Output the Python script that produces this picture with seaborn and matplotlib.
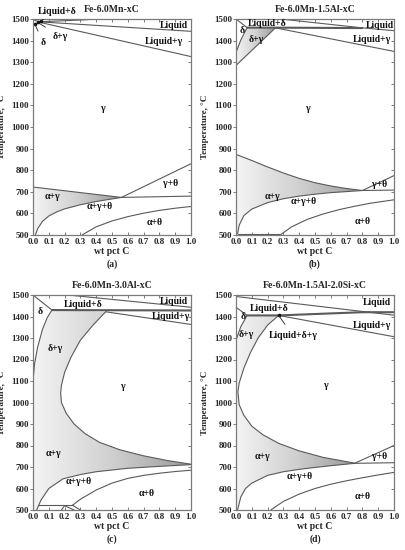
import numpy as np
import matplotlib
matplotlib.use("Agg")
import matplotlib.pyplot as plt
import seaborn as sns
from matplotlib.patches import Polygon
from matplotlib.colors import LinearSegmentedColormap

# ---------------- data (wt pct C, temperature degC) ----------------
X_TICKS = [0.0, 0.1, 0.2, 0.3, 0.4, 0.5, 0.6, 0.7, 0.8, 0.9, 1.0]
X_TICK_LABELS = ["0.0", "0.1", "0.2", "0.3", "0.4", "0.5", "0.6", "0.7", "0.8", "0.9", "1.0"]
Y_TICKS = [500, 600, 700, 800, 900, 1000, 1100, 1200, 1300, 1400, 1500]
TITLES = ["Fe-6.0Mn-xC", "Fe-6.0Mn-1.5Al-xC", "Fe-6.0Mn-3.0Al-xC", "Fe-6.0Mn-1.5Al-2.0Si-xC"]
PANEL_TAGS = ["(a)", "(b)", "(c)", "(d)"]

# panel (a)
A_TOP = [(0.04, 1487), (0.35, 1497)]
A_LIQ = [(0.04, 1487), (1.0, 1443)]
A_SOL = [(0.04, 1485), (1.0, 1326)]
A_D1 = [(0.0, 1497), (0.04, 1487)]
A_D2 = [(0.0, 1472), (0.04, 1486)]
A_AG_UP = [(0.0, 722), (0.56, 674)]
A_EUT = [(0.56, 674), (1.0, 680)]
A_GT = [(0.56, 674), (1.0, 830)]
A_AG_LOW = [(0.015, 500), (0.03, 530), (0.06, 563), (0.1, 588), (0.15, 607), (0.2, 621),
            (0.3, 640), (0.4, 655), (0.5, 667), (0.56, 674)]
A_AT = [(0.31, 500), (0.4, 538), (0.5, 565), (0.6, 585), (0.7, 601), (0.8, 614), (0.9, 624), (1.0, 632)]

# panel (b)
B_LIQ = [(0.28, 1500), (0.8, 1459), (1.0, 1446)]
B_PERI = [(0.07, 1460), (0.25, 1460), (0.8, 1458)]
B_SOL = [(0.25, 1459), (1.0, 1350)]
B_D1 = [(0.0, 1500), (0.07, 1460)]
B_D2 = [(0.0, 1345), (0.03, 1402), (0.07, 1460)]
B_G = [(0.0, 1285), (0.25, 1459)]
B_AG_UP = [(0.0, 873), (0.1, 845), (0.2, 815), (0.3, 787), (0.4, 762), (0.5, 742), (0.6, 727),
           (0.7, 715), (0.8, 706)]
B_EUT = [(0.8, 706), (1.0, 708)]
B_GT = [(0.8, 706), (1.0, 775)]
B_AG_LOW = [(0.01, 505), (0.02, 545), (0.05, 590), (0.1, 620), (0.2, 650), (0.3, 668), (0.4, 680),
            (0.5, 689), (0.6, 696), (0.7, 701), (0.8, 706)]
B_BASE = [(0.01, 505), (0.28, 505)]
B_AT = [(0.28, 500), (0.35, 537), (0.45, 572), (0.55, 597), (0.65, 617), (0.75, 633), (0.85, 647), (1.0, 663)]

# panel (c)
C_LIQ = [(0.22, 1500), (1.0, 1443)]
C_PERI = [(0.12, 1430), (1.0, 1428)]
C_SOL = [(0.46, 1422), (1.0, 1363)]
C_D1 = [(0.0, 1500), (0.12, 1430)]
C_D2 = [(0.0, 1100), (0.01, 1180), (0.03, 1260), (0.06, 1340), (0.09, 1395), (0.12, 1430)]
C_G = [(0.46, 1422), (0.38, 1360), (0.3, 1290), (0.24, 1210), (0.2, 1140), (0.18, 1080), (0.175, 1045),
       (0.18, 1000), (0.21, 950), (0.26, 900), (0.33, 855), (0.42, 815), (0.55, 780), (0.7, 752),
       (0.85, 730), (1.0, 713)]
C_AG_LOW = [(0.023, 500), (0.05, 545), (0.1, 600), (0.19, 645), (0.3, 665), (0.4, 678), (0.6, 694),
            (0.8, 703), (1.0, 711)]
C_BASE = [(0.03, 522), (0.25, 522)]
C_AT = [(0.25, 522), (0.3, 550), (0.4, 593), (0.5, 625), (0.6, 647), (0.7, 661), (0.8, 671), (0.9, 679), (1.0, 685)]
C_SMALL1 = [(0.18, 500), (0.2, 520), (0.26, 500)]
C_SMALL2 = [(0.25, 522), (0.3, 500)]

# panel (d)
D_LIQ = [(0.0, 1493), (1.0, 1406)]
D_PERI = [(0.07, 1405), (0.27, 1405), (0.8, 1420), (1.0, 1420)]
D_SOL = [(0.27, 1405), (1.0, 1306)]
D_D1 = [(0.0, 1443), (0.07, 1405)]
D_D2 = [(0.0, 1290), (0.03, 1352), (0.07, 1405)]
D_G = [(0.27, 1405), (0.2, 1360), (0.14, 1300), (0.09, 1230), (0.05, 1160), (0.02, 1090), (0.012, 1050),
       (0.02, 990), (0.05, 940), (0.1, 890), (0.17, 850), (0.27, 810), (0.4, 775), (0.55, 745), (0.75, 718)]
D_AG_LOW = [(0.01, 500), (0.03, 560), (0.06, 600), (0.1, 625), (0.2, 661), (0.3, 678), (0.4, 689),
            (0.5, 698), (0.6, 706), (0.75, 717)]
D_EUT = [(0.75, 717), (1.0, 720)]
D_GT = [(0.75, 717), (1.0, 800)]
D_AT = [(0.22, 500), (0.3, 540), (0.4, 574), (0.5, 600), (0.6, 620), (0.7, 636), (0.8, 650), (0.9, 663), (1.0, 675)]

# region labels: (text, x, T)
A_LABELS = [("Liquid", 0.89, 1472), ("Liquid+γ", 0.83, 1395), ("γ", 0.445, 1086), ("γ+θ", 0.87, 740),
            ("α+γ", 0.12, 676), ("α+γ+θ", 0.42, 631), ("α+θ", 0.77, 557)]
B_LABELS = [("Liquid+δ", 0.2, 1477), ("δ", 0.04, 1446), ("δ+γ", 0.13, 1403), ("Liquid", 0.91, 1472),
            ("Liquid+γ", 0.86, 1406), ("γ", 0.455, 1086), ("α+γ", 0.23, 677), ("γ+θ", 0.91, 732),
            ("α+γ+θ", 0.43, 654), ("α+θ", 0.8, 562)]
C_LABELS = [("Liquid+δ", 0.32, 1457), ("δ", 0.047, 1422), ("Liquid", 0.89, 1469), ("Liquid+γ", 0.87, 1399),
            ("δ+γ", 0.14, 1249), ("γ", 0.57, 1074), ("α+γ", 0.13, 764), ("α+γ+θ", 0.29, 632), ("α+θ", 0.72, 578)]
D_LABELS = [("Liquid", 0.89, 1466), ("Liquid+δ", 0.21, 1438), ("δ", 0.045, 1402), ("δ+γ", 0.065, 1317),
            ("Liquid+γ", 0.86, 1360), ("γ", 0.57, 1081), ("α+γ", 0.17, 748), ("γ+θ", 0.91, 748),
            ("α+γ+θ", 0.40, 655), ("α+θ", 0.8, 562)]

# arrow labels: (text, label x, label T, target x, target T)
A_ARROWS = [("Liquid+δ", 0.15, 1534, 0.05, 1491), ("δ+γ", 0.17, 1421, 0.03, 1484), ("δ", 0.065, 1390, 0.012, 1476)]
D_ARROWS = [("Liquid+δ+γ", 0.36, 1311, 0.27, 1405)]

# ---------------- style ----------------
sns.set_theme(style="white")
plt.rcParams["font.family"] = ["Liberation Serif", "DejaVu Serif"]
plt.rcParams["font.weight"] = "bold"
plt.rcParams["axes.labelweight"] = "bold"

LINE_C = "#5a5a5a"
FS = 7
TFS = 6.5
grad_cmap = LinearSegmentedColormap.from_list("g", ["#f4f4f4", "#d0d0d0", "#9a9a9a"])

fig = plt.figure(figsize=(4.06, 5.5), dpi=100)
W, H = 406, 550
boxes = [(33, 19, 191, 235), (236, 19, 394, 235), (33, 295, 191, 510), (236, 295, 394, 510)]


def curve(ax, pts, lw=0.8):
    xs = [p[0] for p in pts]
    ys = [p[1] for p in pts]
    sns.lineplot(x=xs, y=ys, ax=ax, sort=False, estimator=None, color=LINE_C, lw=lw)


def shade(ax, pts):
    xs = [p[0] for p in pts]
    poly = Polygon(pts, closed=True, facecolor="none", edgecolor="none", transform=ax.transData)
    ax.add_patch(poly)
    im = ax.imshow(np.linspace(0, 1, 256)[None, :], extent=[min(xs), max(xs), 500, 1500],
                   aspect="auto", cmap=grad_cmap, vmin=0, vmax=1, origin="lower", zorder=0)
    im.set_clip_path(poly)


def setup(ax, i):
    ax.set_xlim(0, 1.0)
    ax.set_ylim(500, 1500)
    ax.set_xticks(X_TICKS)
    ax.set_xticklabels(X_TICK_LABELS)
    ax.set_yticks(Y_TICKS)
    ax.tick_params(axis="x", direction="in", length=2.5, width=0.6, color="#666", labelsize=TFS, pad=2, top=True, bottom=True)
    ax.tick_params(axis="y", direction="out", length=2.0, width=0.6, color="#666", labelsize=TFS, pad=1, left=True)
    sec = ax.secondary_yaxis("right")
    sec.set_yticks(Y_TICKS)
    sec.tick_params(direction="in", length=2.5, width=0.6, color="#666", labelright=False)
    sec.spines["right"].set_visible(False)
    for s in ax.spines.values():
        s.set_color("#7a7a7a")
        s.set_linewidth(0.9)
    for lab in ax.get_xticklabels() + ax.get_yticklabels():
        lab.set_fontweight("bold")
    ax.set_xlabel("wt pct C", fontsize=FS, labelpad=1)
    ax.set_ylabel("Temperature, °C", fontsize=TFS)
    ax.yaxis.set_label_coords(-0.168, 0.5)
    ax.set_title(TITLES[i], fontsize=FS, fontweight="bold", pad=5)
    ax.text(0.5, -0.115, PANEL_TAGS[i], transform=ax.transAxes, ha="center", va="top",
            fontsize=FS, fontweight="bold")


def labels(ax, items):
    for t, x, y in items:
        ax.text(x, y, t, ha="center", va="center", fontsize=FS, fontweight="bold", color="#111")


def arrows(ax, items):
    for t, lx, ly, tx, ty in items:
        ax.annotate(t, xy=(tx, ty), xytext=(lx, ly), ha="center", va="center", fontsize=FS,
                    fontweight="bold", color="#111", annotation_clip=False,
                    arrowprops=dict(arrowstyle="-", color="#222", lw=0.6, shrinkA=3, shrinkB=0))
        ax.plot([tx], [ty], marker="o", ms=1.6, color="#111")


axes = []
for (l, t, r, b) in boxes:
    axes.append(fig.add_axes([l / W, 1 - b / H, (r - l) / W, (b - t) / H]))

# (a)
ax = axes[0]
shade(ax, [(0.0, 500)] + A_AG_UP + A_AG_LOW[::-1])
for c in [A_TOP, A_LIQ, A_SOL, A_D1, A_D2, A_AG_UP, A_EUT, A_GT, A_AG_LOW, A_AT]:
    curve(ax, c)
labels(ax, A_LABELS)
arrows(ax, A_ARROWS)

# (b)
ax = axes[1]
shade(ax, [(0.0, 505)] + B_AG_UP + B_AG_LOW[::-1])
shade(ax, B_D2 + [(0.25, 1459)] + B_G[::-1])
for c in [B_LIQ, B_SOL, B_D1, B_D2, B_G, B_AG_UP, B_EUT, B_GT, B_AG_LOW, B_BASE, B_AT]:
    curve(ax, c)
curve(ax, B_PERI, lw=1.5)
labels(ax, B_LABELS)

# (c)
ax = axes[2]
shade(ax, [(0.0, 500)] + C_D2 + C_G + C_AG_LOW[::-1])
for c in [C_LIQ, C_SOL, C_D1, C_D2, C_G, C_AG_LOW, C_BASE, C_AT, C_SMALL1, C_SMALL2]:
    curve(ax, c)
curve(ax, C_PERI, lw=1.5)
labels(ax, C_LABELS)

# (d)
ax = axes[3]
shade(ax, [(0.0, 500)] + D_D2 + D_G + D_AG_LOW[::-1])
for c in [D_LIQ, D_SOL, D_D1, D_D2, D_G, D_AG_LOW, D_EUT, D_GT, D_AT]:
    curve(ax, c)
curve(ax, D_PERI, lw=1.5)
labels(ax, D_LABELS)
arrows(ax, D_ARROWS)

for i, ax in enumerate(axes):
    setup(ax, i)

fig.savefig("out.png", dpi=100)
